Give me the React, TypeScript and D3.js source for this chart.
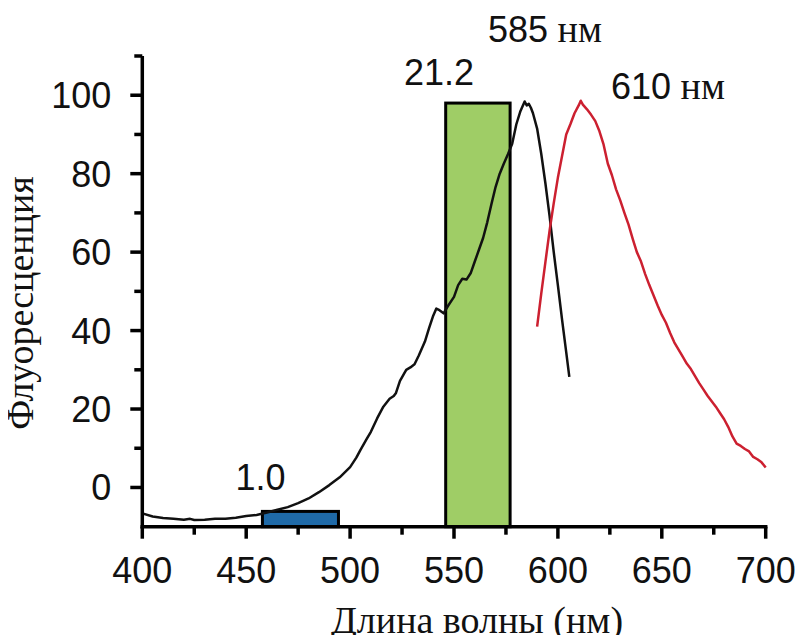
import React, { useRef, useEffect } from "react";
import * as d3 from "d3";

// black spectrum (nm, value)
const blackSpectrum: [number, number][] = [
  [400, -6.6], [405, -7.4], [410, -7.8], [415, -8.0], [420, -8.2], [423, -8.0], [425, -8.3],
  [430, -8.2], [435, -8.0], [440, -8.0], [445, -7.7], [450, -7.3], [455, -7.0], [460, -6.4],
  [465, -5.7], [470, -5.0], [475, -4.0], [480, -2.8], [485, -1.2], [490, 0.6], [495, 2.6],
  [500, 5.2], [503, 7.6], [505, 9.6], [508, 12.4], [510, 14.2], [513, 17.6], [516, 20.6],
  [519, 22.6], [521, 23.3], [522, 24.0], [524, 27.2], [527, 30.0], [529, 30.6], [531, 31.4],
  [533, 33.6], [536, 37.2], [538, 40.6], [540, 43.8], [541.5, 45.6], [543, 45.2], [545, 44.4],
  [547, 46.2], [550, 48.6], [552, 51.6], [554, 53.2], [556, 53.0], [558, 54.6], [560, 57.6],
  [562, 60.6], [564, 63.6], [566, 67.6], [568, 72.2], [570, 76.6], [572, 80.0], [574, 82.6],
  [576, 85.0], [578, 87.6], [580, 92.6], [582, 96.0], [584, 98.4], [585, 97.4], [586, 97.8],
  [587, 96.8], [588, 95.4], [590, 91.5], [592, 85.0], [594, 77.5], [596, 69.2], [598, 60.0],
  [600, 51.5], [602, 42.8], [604, 34.5], [605.5, 28.2],
];

// red spectrum (nm, value)
const redSpectrum: [number, number][] = [
  [590, 41.0], [592, 49.5], [594, 57.5], [596, 65.5], [598, 72.5], [600, 79.0], [602, 84.5],
  [604, 90.0], [606, 92.6], [608, 95.4], [610, 97.4], [611, 98.6], [612, 97.6], [614, 96.4],
  [616, 95.0], [618, 93.4], [620, 90.8], [622, 87.4], [624, 82.6], [626, 79.6], [628, 76.0],
  [630, 73.2], [632, 70.0], [634, 67.0], [636, 63.4], [638, 60.0], [640, 57.6], [642, 54.4],
  [644, 51.6], [646, 49.0], [648, 46.4], [650, 44.0], [652, 42.0], [654, 39.4], [656, 37.0],
  [658, 35.2], [660, 33.4], [662, 31.6], [664, 30.2], [666, 28.4], [668, 26.6], [670, 25.0],
  [672, 23.4], [674, 22.0], [676, 20.6], [678, 19.0], [680, 17.4], [682, 15.4], [684, 13.0],
  [686, 11.2], [688, 10.6], [690, 9.8], [692, 9.2], [694, 7.8], [696, 7.2], [698, 6.4],
  [700, 5.1],
];

// filter bands
const bandLabels = ["1.0", "21.2"];
const bandStart = [457.8, 546];
const bandEnd = [494.4, 577];
const bandTop = [-6.1, 98.0];
const bandColors = ["#1f6aa8", "#9fcd66"];

const xTicks = [400, 450, 500, 550, 600, 650, 700];
const xMinor = [425, 475, 525, 575, 625, 675];
const yTicks = [0, 20, 40, 60, 80, 100];
const yMinor = [10, 30, 50, 70, 90, 110];

const peakLabels = ["585", "610"];

const sans = "'Liberation Sans', Arial, sans-serif";
const serif = "'Liberation Serif', 'Times New Roman', serif";

const Chart = () => {
  const svgRef = useRef<SVGSVGElement>(null);

  useEffect(() => {
    const svg = d3.select(svgRef.current);
    svg.selectAll("*").remove();

    const x = d3.scaleLinear().domain([400, 700]).range([142.3, 765.7]);
    const y = d3.scaleLinear().domain([-10, 110]).range([526.7, 56]);

    // bands
    bandLabels.forEach((lab, i) => {
      svg
        .append("rect")
        .attr("x", x(bandStart[i]))
        .attr("y", y(bandTop[i]))
        .attr("width", x(bandEnd[i]) - x(bandStart[i]))
        .attr("height", y(-10) - y(bandTop[i]))
        .attr("fill", bandColors[i])
        .attr("stroke", "#000")
        .attr("stroke-width", 3);
    });

    const line = d3
      .line<[number, number]>()
      .x((d) => x(d[0]))
      .y((d) => y(d[1]));

    svg
      .append("path")
      .datum(blackSpectrum)
      .attr("fill", "none")
      .attr("stroke", "#111")
      .attr("stroke-width", 2.5)
      .attr("stroke-linejoin", "round")
      .attr("d", line);

    svg
      .append("path")
      .datum(redSpectrum)
      .attr("fill", "none")
      .attr("stroke", "#cc2030")
      .attr("stroke-width", 2.5)
      .attr("stroke-linejoin", "round")
      .attr("d", line);

    // axes
    const xAxis = svg.append("g").attr("transform", `translate(0,${y(-10)})`);
    xAxis
      .append("line")
      .attr("x1", x(400) - 1.75)
      .attr("x2", x(700) + 1.75)
      .attr("stroke", "#000")
      .attr("stroke-width", 3.5);
    xAxis
      .selectAll(".maj")
      .data(xTicks)
      .join("line")
      .attr("x1", (d) => x(d))
      .attr("x2", (d) => x(d))
      .attr("y1", 0)
      .attr("y2", 12)
      .attr("stroke", "#000")
      .attr("stroke-width", 3.5);
    xAxis
      .selectAll(".min")
      .data(xMinor)
      .join("line")
      .attr("x1", (d) => x(d))
      .attr("x2", (d) => x(d))
      .attr("y1", 0)
      .attr("y2", 8)
      .attr("stroke", "#000")
      .attr("stroke-width", 3.5);
    xAxis
      .selectAll("text")
      .data(xTicks)
      .join("text")
      .attr("x", (d) => x(d))
      .attr("y", 56)
      .attr("text-anchor", "middle")
      .style("font-family", sans)
      .style("font-size", "36px")
      .style("fill", "#111")
      .text((d) => d);

    const yAxis = svg.append("g").attr("transform", `translate(${x(400)},0)`);
    yAxis
      .append("line")
      .attr("y1", y(-10) + 1.75)
      .attr("y2", y(110))
      .attr("stroke", "#000")
      .attr("stroke-width", 3.5);
    yAxis
      .selectAll(".maj")
      .data(yTicks)
      .join("line")
      .attr("x1", -12)
      .attr("x2", 0)
      .attr("y1", (d) => y(d))
      .attr("y2", (d) => y(d))
      .attr("stroke", "#000")
      .attr("stroke-width", 3.5);
    yAxis
      .selectAll(".min")
      .data(yMinor)
      .join("line")
      .attr("x1", -8)
      .attr("x2", 0)
      .attr("y1", (d) => y(d))
      .attr("y2", (d) => y(d))
      .attr("stroke", "#000")
      .attr("stroke-width", 3.5);
    yAxis
      .selectAll("text")
      .data(yTicks)
      .join("text")
      .attr("x", -31)
      .attr("y", (d) => y(d) + 13)
      .attr("text-anchor", "end")
      .style("font-family", sans)
      .style("font-size", "36px")
      .style("fill", "#111")
      .text((d) => d);

    // axis titles
    svg
      .append("text")
      .attr("x", 477)
      .attr("y", 633)
      .attr("text-anchor", "middle")
      .style("font-family", serif)
      .style("font-size", "38px")
      .style("fill", "#111")
      .text("Длина волны (нм)");

    svg
      .append("text")
      .attr("transform", "translate(33,303) rotate(-90)")
      .attr("text-anchor", "middle")
      .style("font-family", serif)
      .style("font-size", "38px")
      .style("fill", "#111")
      .text("Флуоресценция");

    // band labels
    svg
      .append("text")
      .attr("x", x(bandStart[0]) - 27)
      .attr("y", 490)
      .style("font-family", sans)
      .style("font-size", "36px")
      .style("fill", "#111")
      .text(bandLabels[0]);
    svg
      .append("text")
      .attr("x", x(bandEnd[1]) - 36)
      .attr("y", 85)
      .attr("text-anchor", "end")
      .style("font-family", sans)
      .style("font-size", "36px")
      .style("fill", "#111")
      .text(bandLabels[1]);

    // peak labels
    const peakPos = [
      [488, 42],
      [611, 99],
    ];
    peakLabels.forEach((p, i) => {
      const t = svg
        .append("text")
        .attr("x", peakPos[i][0])
        .attr("y", peakPos[i][1])
        .style("fill", "#111");
      t.append("tspan").style("font-family", sans).style("font-size", "36px").text(p);
      t.append("tspan").style("font-family", serif).style("font-size", "38px").text(" нм");
    });
  }, []);

  return <svg ref={svgRef} width={804} height={643} style={{ display: "block", background: "#fff" }}></svg>;
};

export default function App() {
  return (
    <div style={{ margin: -8 }}>
      <Chart />
    </div>
  );
}
